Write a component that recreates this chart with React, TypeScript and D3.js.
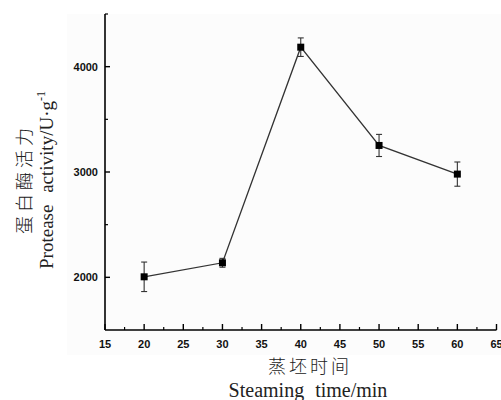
import React from "react";
import * as d3 from "d3";

const times = [20, 30, 40, 50, 60];
const activity = [2005, 2138, 4185, 3252, 2980];
const errors = [140, 42, 88, 105, 115];
const xTicks = [15, 20, 25, 30, 35, 40, 45, 50, 55, 60, 65];
const yTicks = [2000, 3000, 4000];
const yMinor = [2500, 3500, 4500];
const xMinor = [17.5, 22.5, 27.5, 32.5, 37.5, 42.5, 47.5, 52.5, 57.5, 62.5];

export default function App() {
  const W = 501, H = 400;
  const x = d3.scaleLinear().domain([15, 65]).range([105, 496.5]);
  const y = d3.scaleLinear().domain([1500, 4500]).range([330, 14]);
  const line = d3
    .line<number>()
    .x((_, i) => x(times[i]))
    .y((d) => y(d));
  const x0 = x(15), y0 = y(1500);
  const tickFont = "'Liberation Sans', Arial, sans-serif";
  const serif = "'Liberation Serif', 'Times New Roman', serif";
  const cjk = "'Noto Sans CJK SC', sans-serif";
  return (
    <svg
      width={W}
      height={H}
      style={{ position: "absolute", left: 0, top: 0, background: "#fff" }}
    >
      <rect x={67} y={14} width={434} height={341} fill="#fcfcfc" />
      {/* axes */}
      <line x1={x0} x2={x0} y1={y(4500)} y2={y0} stroke="#000" strokeWidth={1.6} />
      <line x1={x0} x2={x(65)} y1={y0} y2={y0} stroke="#000" strokeWidth={1.6} />
      {yTicks.map((t) => (
        <g key={"yt" + t}>
          <line x1={x0} x2={x0 + 5} y1={y(t)} y2={y(t)} stroke="#000" strokeWidth={1.4} />
          <text
            x={x0 - 7}
            y={y(t)}
            dy="0.36em"
            textAnchor="end"
            fontFamily={tickFont}
            fontWeight="bold"
            fontSize={11}
            fill="#111"
          >
            {t}
          </text>
        </g>
      ))}
      {yMinor.map((t) => (
        <line key={"ym" + t} x1={x0} x2={x0 + 3} y1={y(t)} y2={y(t)} stroke="#000" strokeWidth={1.2} />
      ))}
      {xTicks.map((t) => (
        <g key={"xt" + t}>
          <line x1={x(t)} x2={x(t)} y1={y0} y2={y0 - 6} stroke="#000" strokeWidth={1.4} />
          <text
            x={x(t)}
            y={y0 + 18}
            textAnchor="middle"
            fontFamily={tickFont}
            fontWeight="bold"
            fontSize={11}
            fill="#111"
          >
            {t}
          </text>
        </g>
      ))}
      {xMinor.map((t) => (
        <line key={"xm" + t} x1={x(t)} x2={x(t)} y1={y0} y2={y0 - 3} stroke="#000" strokeWidth={1.2} />
      ))}
      {/* line */}
      <path d={line(activity) || ""} fill="none" stroke="#333" strokeWidth={1.3} />
      {/* error bars */}
      {activity.map((v, i) => {
        const cx = x(times[i]);
        return (
          <g key={"e" + i} stroke="#333" strokeWidth={1.1}>
            <line x1={cx} x2={cx} y1={y(v + errors[i])} y2={y(v - errors[i])} />
            <line x1={cx - 3} x2={cx + 3} y1={y(v + errors[i])} y2={y(v + errors[i])} />
            <line x1={cx - 3} x2={cx + 3} y1={y(v - errors[i])} y2={y(v - errors[i])} />
          </g>
        );
      })}
      {activity.map((v, i) => (
        <rect key={"m" + i} x={x(times[i]) - 3.5} y={y(v) - 3.5} width={7} height={7} fill="#000" />
      ))}
      {/* y axis title */}
      <text
        transform={`translate(31,179) rotate(-90)`}
        textAnchor="middle"
        fontFamily={cjk}
        fontSize={18}
        letterSpacing={4}
        fill="#222"
        fontWeight={300}
      >
        蛋白酶活力
      </text>
      <text
        transform={`translate(53,180) rotate(-90)`}
        textAnchor="middle"
        fontFamily={serif}
        fontSize={19}
        fill="#222"
        wordSpacing={7}
      >
        Protease activity/U·g
        <tspan dy={-8} fontSize={12}>-1</tspan>
      </text>
      {/* x axis title */}
      <text
        x={310}
        y={373}
        textAnchor="middle"
        fontFamily={cjk}
        fontSize={18}
        letterSpacing={3}
        fill="#222"
        fontWeight={300}
      >
        蒸坯时间
      </text>
      <text
        x={308}
        y={397}
        textAnchor="middle"
        fontFamily={serif}
        fontSize={20}
        fill="#222"
        wordSpacing={6}
      >
        Steaming time/min
      </text>
    </svg>
  );
}
